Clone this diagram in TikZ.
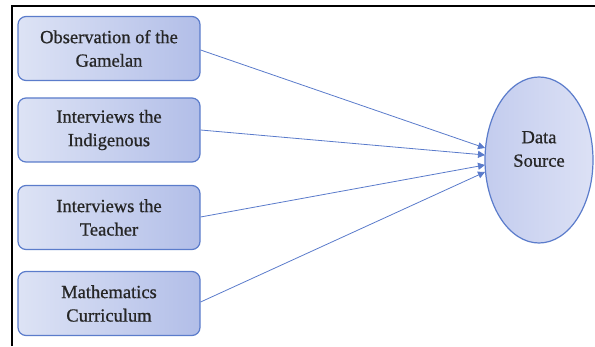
\documentclass[tikz,border=0pt]{standalone}
\usepackage{fontspec}
\setmainfont{Liberation Serif}[FakeBold=0.8]
\usetikzlibrary{arrows.meta,shapes.geometric}
\definecolor{bord}{HTML}{5B7CCB}
\definecolor{lightb}{HTML}{DDE3F5}
\definecolor{darkb}{HTML}{B2BEE8}
\definecolor{ellL}{HTML}{C3CCEE}
\definecolor{ellR}{HTML}{DCE1F5}
\definecolor{arr}{HTML}{5A7BCB}
\tikzset{
  lbl/.style={align=center, font=\fontsize{18.5}{23.5}\selectfont, inner sep=0pt, text=black!85},
  srcbox/.style={draw=bord, line width=1.2pt, rounded corners=8pt, left color=lightb, right color=darkb,
    minimum width=182pt, minimum height=64pt, lbl},
  target/.style={ellipse, draw=bord, line width=1.2pt, left color=ellL, right color=ellR,
    minimum width=108pt, minimum height=166pt, inner sep=0pt},
  link/.style={draw=arr, line width=0.8pt, -{Triangle[length=7pt,width=7pt]}}
}
\begin{document}
\begin{tikzpicture}[x=1pt,y=1pt]
\useasboundingbox (0,0) rectangle (595,346);
\draw[line width=2.2pt] (12,0) -- (12,340) -- (595,340);
\node[srcbox] (b1) at (109,297.5) {Observation of the\\Gamelan};
\node[srcbox] (b2) at (109,216) {Interviews the\\Indigenous};
\node[srcbox] (b3) at (109,128.5) {Interviews the\\Teacher};
\node[srcbox] (b4) at (109,42.5) {Mathematics\\Curriculum};
\node[target] (ds) at (539,186) {};
\node[lbl] (dst) at ([yshift=11pt]ds.center) {Data\\Source};
\coordinate (e1) at (485,198);
\coordinate (e2) at (485,191);
\coordinate (e3) at (485,181);
\coordinate (e4) at (485,174);
\draw[link] (b1.east |- 0,296) -- (e1);
\draw[link] (b2.east |- 0,216) -- (e2);
\draw[link] (b3.east |- 0,129) -- (e3);
\draw[link] (b4.east |- 0,44) -- (e4);
\end{tikzpicture}
\end{document}
